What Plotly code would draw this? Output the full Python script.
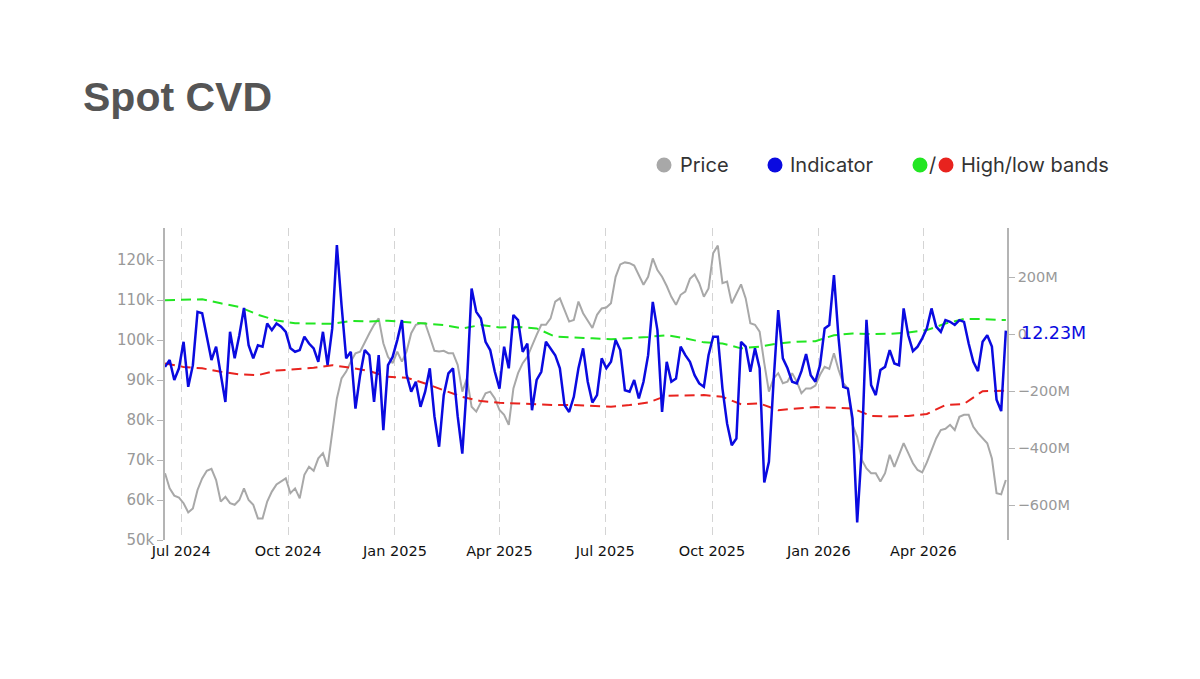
import pandas as pd
import plotly.graph_objects as go

# =========================================================
# Data (one point every 4 days)
# =========================================================
START = "2024-06-17"
N_POINTS = 182

# BTC price, thousands of USD (left axis)
price_k = [
    66.7, 62.9, 61.1, 60.6, 59.2, 56.9, 57.9, 62.5, 65.4, 67.3,
    67.8, 65.0, 59.6, 60.8, 59.2, 58.8, 60.0, 62.9, 60.0, 58.8,
    55.4, 55.4, 59.6, 62.1, 63.9, 64.6, 65.4, 61.7, 62.9, 60.4,
    66.3, 68.3, 67.3, 70.4, 71.7, 68.3, 76.3, 85.4, 90.4, 92.1,
    94.6, 96.7, 97.1, 99.6, 101.7, 103.8, 105.4, 99.2, 95.8, 94.2,
    97.1, 94.6, 97.1, 101.7, 103.8, 104.2, 104.2, 100.8, 97.3, 97.1,
    97.3, 96.7, 96.7, 93.8, 87.1, 90.4, 83.3, 82.1, 84.6, 86.7,
    87.1, 85.4, 82.5, 81.3, 78.8, 87.9, 91.7, 94.2, 95.8, 98.8,
    101.3, 103.8, 103.8, 105.4, 109.6, 110.4, 107.5, 104.6, 105.0, 109.6,
    106.7, 105.0, 103.0, 106.3, 107.9, 108.1, 109.2, 115.8, 118.9, 119.4,
    119.2, 118.6, 116.4, 113.8, 115.8, 120.4, 117.5, 115.8, 113.5, 110.8,
    108.8, 111.3, 112.1, 115.3, 116.4, 114.2, 110.8, 112.9, 121.7, 123.6,
    114.2, 114.6, 109.2, 111.7, 113.9, 110.4, 104.2, 103.8, 102.1, 94.2,
    87.1, 90.4, 91.7, 89.2, 89.6, 91.7, 89.6, 86.7, 87.9, 87.9,
    88.6, 91.3, 93.3, 92.8, 96.7, 92.5, 89.2, 87.9, 78.8, 75.8,
    70.0, 67.9, 66.7, 66.7, 64.6, 66.7, 71.3, 68.3, 71.3, 74.2,
    71.7, 69.2, 67.5, 66.9, 69.4, 72.5, 75.4, 77.5, 77.8, 78.8,
    77.5, 80.8, 81.3, 81.3, 78.3, 76.7, 75.4, 74.2, 70.4, 61.7,
    61.4, 65.0,
]

# Spot CVD indicator, millions (right axis)
indicator_m = [
    -115, -91, -161, -120, -27, -185, -109, 78, 73, -15,
    -91, -44, -138, -238, 8, -85, -4, 92, -39, -85,
    -39, -44, 37, 14, 37, 26, 8, -50, -62, -56,
    -9, -33, -50, -97, 8, -109, 20, 312, 102, -85,
    -62, -261, -144, -56, -74, -238, -74, -337, -109, -80,
    -21, 49, -142, -202, -167, -255, -202, -120, -288, -395,
    -214, -138, -120, -288, -419, -171, 160, 78, 55, -27,
    -56, -132, -191, -44, -120, 67, 49, -62, -33, -267,
    -161, -132, -27, -50, -74, -120, -249, -273, -220, -120,
    -50, -167, -240, -214, -85, -120, -97, -21, -56, -197,
    -202, -161, -226, -167, -74, 113, 14, -273, -97, -167,
    -156, -44, -74, -97, -144, -173, -185, -74, -9, -9,
    -191, -314, -390, -366, -27, -44, -132, -50, -120, -520,
    -448, -167, 84, -85, -120, -167, -173, -130, -70, -144,
    -167, -109, 20, 32, 207, -15, -185, -191, -296, -660,
    -400, 50, -179, -214, -126, -115, -56, -103, -109, 90,
    -4, -60, -44, -15, 20, 90, 26, 8, 49, 43,
    32, 49, 43, -33, -97, -130, -27, -4, -44, -230,
    -270, 12.23,
]

# High / low bands, millions, every 4th point plus the last one
band_high_m = [
    119, 120, 122, 108, 95, 68, 48, 38, 36, 36,
    46, 44, 47, 43, 37, 32, 20, 32, 23, 25,
    20, -9, -13, -15, -18, -15, -10, -4, -15, -29,
    -33, -50, -44, -33, -27, -25, -4, 2, 0, 1,
    6, 14, 37, 53, 53, 49, 49,
]
band_low_m = [
    -103, -115, -120, -132, -141, -144, -128, -123, -118, -109,
    -118, -130, -150, -153, -173, -197, -220, -235, -241, -243,
    -246, -249, -249, -251, -255, -249, -240, -216, -214, -214,
    -220, -246, -243, -267, -261, -256, -258, -261, -287, -289,
    -287, -280, -249, -245, -200, -199, -199,
]

LAST_LABEL = "12.23M"

dates = pd.date_range(START, periods=N_POINTS, freq="4D")
band_idx = list(range(0, N_POINTS - 1, 4)) + [N_POINTS - 1]
band_dates = dates[band_idx]

price = [p * 1000 for p in price_k]
indicator = [v * 1e6 for v in indicator_m]
band_high = [v * 1e6 for v in band_high_m]
band_low = [v * 1e6 for v in band_low_m]

# =========================================================
# Colours / layout constants
# =========================================================
GREY = "#a8a8a8"
BLUE = "#0a0ae0"
GREEN = "#22e622"
RED = "#e8231e"
AXIS = "#b4b4b4"

# page body adds 8px, so the figure is laid out 8px up/left
PAGE_OFF = 8
W, H = 1200, 679
PLOT_L, PLOT_R, PLOT_T, PLOT_B = 165, 1007, 228, 540   # wanted, on screen
L = PLOT_L - PAGE_OFF
T = PLOT_T - PAGE_OFF
R = W - (PLOT_R - PAGE_OFF)
B = H - (PLOT_B - PAGE_OFF)
PW, PH = PLOT_R - PLOT_L, PLOT_B - PLOT_T


def px_x(px):
    return (px - PLOT_L) / PW


def px_y(py):
    return (PLOT_B - py) / PH


# =========================================================
# Figure
# =========================================================
fig = go.Figure()

fig.add_trace(go.Scatter(
    x=dates, y=price, mode="lines", name="Price",
    line=dict(color=GREY, width=2), yaxis="y",
))
fig.add_trace(go.Scatter(
    x=band_dates, y=band_high, mode="lines", name="High band",
    line=dict(color=GREEN, width=2, dash="10px,6px"), yaxis="y2",
))
fig.add_trace(go.Scatter(
    x=band_dates, y=band_low, mode="lines", name="Low band",
    line=dict(color=RED, width=2, dash="10px,6px"), yaxis="y2",
))
fig.add_trace(go.Scatter(
    x=dates, y=indicator, mode="lines", name="Indicator",
    line=dict(color=BLUE, width=2.5), yaxis="y2",
))

tick_font = dict(family="DejaVu Sans", size=14, color="#999999")

fig.update_layout(
    width=W, height=H,
    margin=dict(l=L, r=R, t=T, b=B),
    paper_bgcolor="white", plot_bgcolor="white",
    showlegend=False,
    xaxis=dict(
        range=["2024-06-17", "2026-06-12"],
        tick0="2024-07-01", dtick="M3", tickformat="%b %Y",
        showgrid=True, gridcolor="#d4d4d4", gridwidth=1, griddash="8px,5px",
        showline=False, zeroline=False, ticks="",
        tickfont=dict(family="DejaVu Sans", size=14.5, color="#111111"),
    ),
    yaxis=dict(
        range=[50000, 128000], dtick=10000, tickformat="~s",
        showgrid=False, zeroline=False,
        showline=True, linecolor=AXIS, linewidth=1.5,
        ticks="outside", ticklen=6, tickcolor=AXIS,
        tickfont=dict(tick_font, size=15),
    ),
    yaxis2=dict(
        overlaying="y", side="right",
        range=[-722e6, 372e6],
        tickvals=[-600e6, -400e6, -200e6, 0, 200e6], tickformat="~s",
        showgrid=False, zeroline=False,
        showline=True, linecolor=AXIS, linewidth=1.5,
        ticks="outside", ticklen=6, tickcolor=AXIS,
        tickfont=dict(tick_font, size=14.5),
    ),
)

# last value label on the right axis
fig.add_annotation(
    x=1, xref="paper", xanchor="left", xshift=12,
    y=indicator[-1], yref="y2", yanchor="middle", yshift=-2,
    text=LAST_LABEL, showarrow=False,
    font=dict(family="DejaVu Sans", size=17.5, color=BLUE),
)

# title
fig.add_annotation(
    x=px_x(81), y=px_y(97), xref="paper", yref="paper",
    xanchor="left", yanchor="middle", showarrow=False,
    text="<b>Spot CVD</b>",
    font=dict(family="Liberation Sans", size=41, color="#555555"),
)

# custom legend: dots + labels
legend_y = px_y(165)
dots = [(664, GREY), (775, BLUE), (920, GREEN), (946, RED)]
for cx, col in dots:
    fig.add_shape(
        type="circle", xref="paper", yref="paper",
        xsizemode="pixel", ysizemode="pixel",
        xanchor=px_x(cx), yanchor=legend_y,
        x0=-7.5, x1=7.5, y0=-7.5, y1=7.5,
        fillcolor=col, line=dict(width=0),
    )

legend_font = dict(family="Inter", size=20, color="#333333")
labels = [(678, "Price", "left"), (788, "Indicator", "left"),
          (932, "/", "center"), (959, "High/low bands", "left")]
for lx, txt, anchor in labels:
    fig.add_annotation(
        x=px_x(lx), y=legend_y, xref="paper", yref="paper",
        xanchor=anchor, yanchor="middle", showarrow=False,
        text=txt, font=legend_font,
    )

fig.write_html("out.html")
